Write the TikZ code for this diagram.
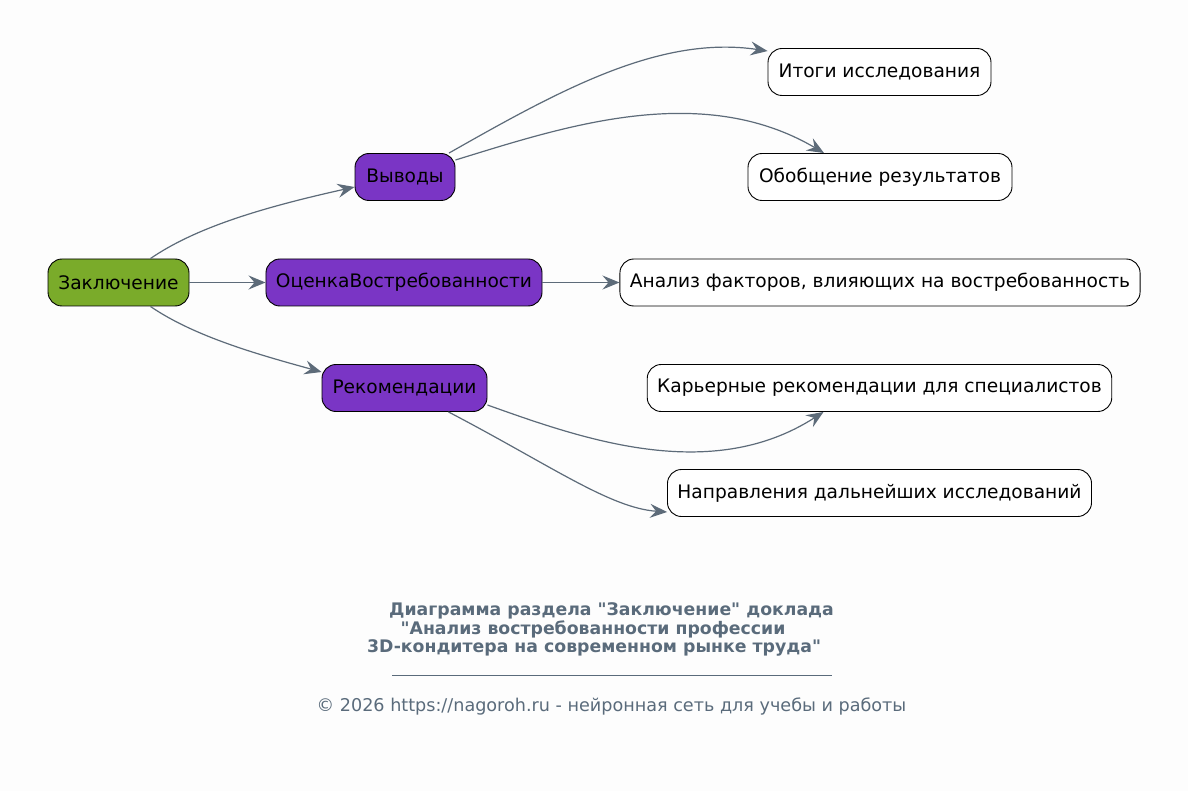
\documentclass[tikz,border=0pt]{standalone}
\usepackage{fontspec}
\setmainfont{DejaVu Sans}
\newfontfamily\dejavu{DejaVu Sans}
\usetikzlibrary{arrows.meta}
\definecolor{edgecol}{HTML}{5D6B79}
\definecolor{titlecol}{HTML}{5A6B7B}
\definecolor{rootgreen}{HTML}{7AAB2A}
\definecolor{midpurple}{HTML}{7A35C5}
\definecolor{bgcol}{HTML}{FDFDFD}
\tikzset{
  box/.style={draw=black, line width=0.9pt, rounded corners=14pt, minimum height=47pt, inner xsep=10pt, font=\dejavu\fontsize{18.6}{22}\selectfont, text=black},
  rootbox/.style={box, fill=rootgreen},
  midbox/.style={box, fill=midpurple},
  leafbox/.style={box, fill=white},
  conn/.style={draw=edgecol, line width=1.2pt, -{Stealth[length=17pt, width=14pt, inset=6pt]}},
  titletext/.style={text=titlecol, font=\dejavu\bfseries\fontsize{17.3}{20}\selectfont, inner sep=0pt},
  foottext/.style={text=titlecol, font=\dejavu\fontsize{17.6}{20}\selectfont, inner sep=0pt}
}
\begin{document}
\begin{tikzpicture}[x=1pt, y=-1pt]
\fill[bgcol] (0,0) rectangle (1188,791);
\useasboundingbox (0,0) rectangle (1188,791);

\node[rootbox, minimum width=141pt] (root) at (118.5,282.5) {Заключение};
\node[midbox, minimum width=100pt] (vyv) at (405,177) {Выводы};
\node[midbox, minimum width=276pt] (ocen) at (404,282.5) {ОценкаВостребованности};
\node[midbox, minimum width=165pt] (rek) at (404.5,388) {Рекомендации};

\node[leafbox, minimum width=223pt] (itogi) at (879.5,72) {Итоги исследования};
\node[leafbox, minimum width=264pt] (obob) at (880,177) {Обобщение результатов};
\node[leafbox, minimum width=520pt] (anal) at (880,282.5) {Анализ факторов, влияющих на востребованность};
\node[leafbox, minimum width=463pt] (kar) at (879.5,388) {Карьерные рекомендации для специалистов};
\node[leafbox, minimum width=423pt] (napr) at (879.5,493) {Направления дальнейших исследований};

\draw[conn] ([xshift=-39pt]root.north east) .. controls (195,228) and (260,208) .. ([yshift=-10pt]vyv.west);
\draw[conn] (root.east) -- (ocen.west);
\draw[conn] ([xshift=-39pt]root.south east) .. controls (195,337) and (260,355) .. ([yshift=16pt]rek.west);
\draw[conn] (ocen.east) -- (anal.west);

\draw[conn] ([xshift=44pt]vyv.north) .. controls (560,90) and (660,35) .. ([yshift=21pt]itogi.west);
\draw[conn] ([yshift=17pt]vyv.east) .. controls (560,128) and (700,80) .. ([xshift=-56pt]obob.north);

\draw[conn] ([yshift=-17pt]rek.east) .. controls (580,438) and (710,485) .. ([xshift=-56pt]kar.south);
\draw[conn] ([xshift=44pt]rek.south) .. controls (550,465) and (610,508) .. ([yshift=-19pt]napr.west);

\node[titletext] (t1) at (611.5,611) {Диаграмма раздела "Заключение" доклада};
\node[titletext] (t2) at (593,629.5) {"Анализ востребованности профессии};
\node[titletext] (t3) at (594,648) {3D-кондитера на современном рынке труда"};
\draw[titlecol, line width=0.6pt] (392,675) -- (832,675);
\node[foottext] (foot) at (611.5,706) {© 2026 https://nagoroh.ru - нейронная сеть для учебы и работы};
\end{tikzpicture}
\end{document}
